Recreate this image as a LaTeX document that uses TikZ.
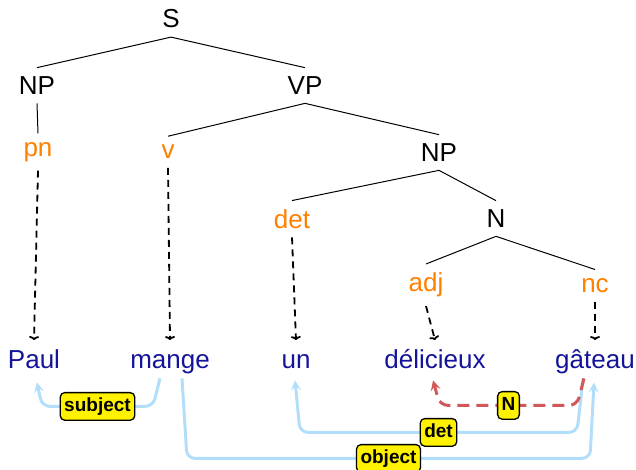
\documentclass[tikz,border=0pt]{standalone}
\usepackage{fontspec}
\setmainfont{Liberation Sans}
\usetikzlibrary{arrows.meta}
\definecolor{catorange}{RGB}{255,128,0}
\definecolor{wordblue}{RGB}{20,20,155}
\definecolor{arcblue}{RGB}{178,222,250}
\definecolor{arcred}{RGB}{208,88,88}
\begin{document}
\begin{tikzpicture}[x=1pt,y=-1pt,
  every node/.style={font=\fontsize{26}{30}\selectfont, inner sep=8.7pt},
  phrasecat/.style={text=black},
  postag/.style={text=catorange},
  word/.style={text=wordblue, anchor=base, text height=19pt, text depth=1.5pt},
  branch/.style={line width=1pt},
  lexarrow/.style={line width=1.8pt, dash pattern=on 7pt off 5pt, -{To[length=4pt,width=10pt]}},
  deparc/.style={arcblue, line width=3pt, rounded corners=8pt,
    -{Stealth[length=10pt,width=10pt,inset=4pt]}},
  nmodarc/.style={arcred, line width=3pt, rounded corners=8pt, dash pattern=on 12pt off 7pt,
    -{Stealth[length=10pt,width=10pt,inset=4pt]}},
  deplabel/.style={fill=yellow, draw=black, line width=1.3pt, rounded corners=4.5pt,
    font=\bfseries\fontsize{19}{22}\selectfont, text=black,
    inner xsep=4pt, inner ysep=5pt, text height=13.6pt, text depth=4pt}
]
\useasboundingbox (0,0) rectangle (636,469);

% phrase structure tree
\node[phrasecat] (S)   at (171,19)    {S};
\node[phrasecat] (NPa) at (37,85.5)   {NP};
\node[phrasecat] (VP)  at (305,85.5)  {VP};
\node[postag]    (pn)  at (38,152)    {pn};
\node[postag]    (v)   at (168,152)   {v};
\node[phrasecat] (NPb) at (439,152.5) {NP};
\node[postag]    (det) at (292,219)   {det};
\node[phrasecat] (N)   at (496,218.5) {N};
\node[postag]    (adj) at (426,285)   {adj};
\node[postag]    (nc)  at (595,285.5) {nc};

\draw[branch] (S.south)   -- (NPa.north);
\draw[branch] (S.south)   -- (VP.north);
\draw[branch] (NPa.south) -- (pn.north);
\draw[branch] (VP.south)  -- (v.north);
\draw[branch] (VP.south)  -- (NPb.north);
\draw[branch] (NPb.south) -- (det.north);
\draw[branch] (NPb.south) -- (N.north);
\draw[branch] (N.south)   -- (adj.north);
\draw[branch] (N.south)   -- (nc.north);

% words
\node[word] (Paul)      at (34,368)  {Paul};
\node[word] (mange)     at (170,368) {mange};
\node[word] (un)        at (296,368) {un};
\node[word] (delicieux) at (435,368) {délicieux};
\node[word] (gateau)    at (595,368) {gâteau};

% lexical links
\draw[lexarrow] (pn.south)  -- (Paul.north);
\draw[lexarrow] (v.south)   -- (mange.north);
\draw[lexarrow] (det.south) -- (un.north);
\draw[lexarrow] (adj.south) -- (delicieux.north);
\draw[lexarrow] (nc.south)  -- (gateau.north);

% dependency arcs
\draw[deparc] ([xshift=-10pt]mange.south) -- ++(-7,28)
  -- node[deplabel] {subject} ([xshift=8pt,yshift=-28pt]Paul.south)
  -- ([xshift=3pt,yshift=-4pt]Paul.south);
\draw[deparc] ([xshift=-12pt]gateau.south) -- ++(-6,54)
  -- node[deplabel] {det} ([xshift=4pt,yshift=-54pt]un.south)
  -- ([xshift=-1pt,yshift=-2pt]un.south);
\draw[deparc] ([xshift=12pt]mange.south) -- ++(5,80)
  -- node[deplabel] {object} ([xshift=-5pt,yshift=-80pt]gateau.south)
  -- ([xshift=-1pt,yshift=-4pt]gateau.south);
\draw[nmodarc] ([xshift=-11pt]gateau.south) -- ++(-7,27)
  -- node[deplabel, solid] {N} ([xshift=5pt,yshift=-27pt]delicieux.south)
  -- ([xshift=-2pt,yshift=-2pt]delicieux.south);
\end{tikzpicture}
\end{document}
